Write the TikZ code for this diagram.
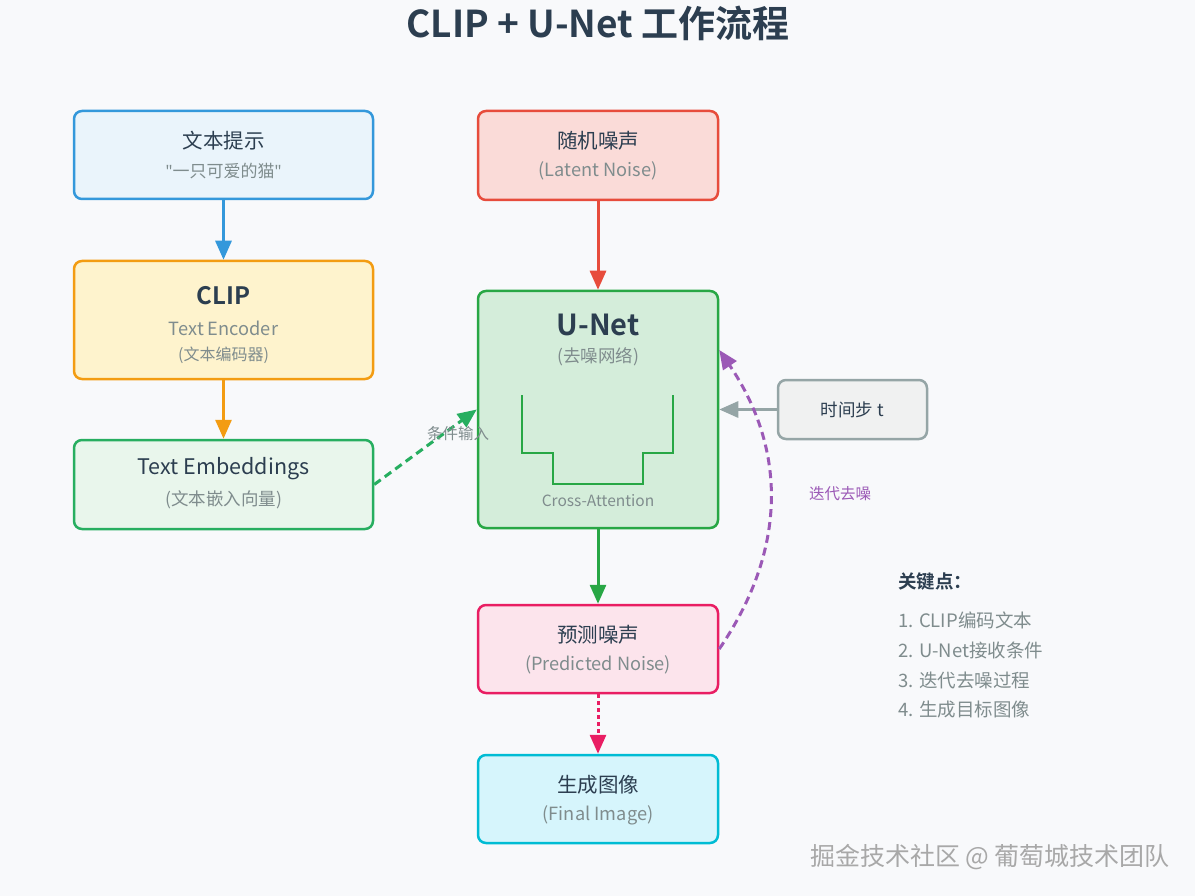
\documentclass[tikz,border=0pt]{standalone}
\usepackage{fontspec}
\setmainfont{Noto Sans CJK SC}[BoldFont={Noto Sans CJK SC Bold}]
\newfontfamily\latinfont{Noto Sans}
\usetikzlibrary{arrows.meta,calc}
\definecolor{bg}{HTML}{F8F9FB}
\definecolor{dark}{HTML}{2C3E50}
\definecolor{sub}{HTML}{7F8C8D}
\definecolor{cblue}{HTML}{3498DB}\definecolor{fblue}{HTML}{EAF4FB}
\definecolor{corange}{HTML}{F39C12}\definecolor{forange}{HTML}{FEF3CD}
\definecolor{cgreen}{HTML}{27AE60}\definecolor{fgreenl}{HTML}{E9F6EC}
\definecolor{ugreen}{HTML}{28A745}\definecolor{fgreen}{HTML}{D4EDDA}
\definecolor{cred}{HTML}{E74C3C}\definecolor{fred}{HTML}{FADBD8}
\definecolor{cgray}{HTML}{95A5A6}\definecolor{fgray}{HTML}{F0F1F1}
\definecolor{cpink}{HTML}{E91E63}\definecolor{fpink}{HTML}{FCE4EC}
\definecolor{ccyan}{HTML}{00BCD4}\definecolor{fcyan}{HTML}{D6F5FC}
\definecolor{cpurple}{HTML}{9B59B6}
\definecolor{wmgray}{HTML}{A8A8A8}
\newcommand{\fsz}[1]{\fontsize{#1}{#1}\selectfont}
\newcommand{\sq}{{\latinfont\char"22}}
\begin{document}
\begin{tikzpicture}[x=1pt,y=-1pt,
  box/.style={draw, rounded corners=8pt, line width=2.5pt, inner sep=0pt},
  ttl/.style={text=dark, font=\fsz{20.5}, anchor=center, inner sep=0pt},
  subt/.style={text=sub, font=\fsz{18.2}, anchor=center, inner sep=0pt},
  arr/.style={line width=3pt, -{Triangle[length=19pt,width=16pt]}},
  lbl/.style={font=\fsz{15.5}, anchor=center, inner sep=0pt},
  itm/.style={text=sub, font=\fsz{18.5}, anchor=west, inner sep=0pt}]
\fill[bg] (0,0) rectangle (1195,896);
\useasboundingbox (0,0) rectangle (1195,896);

% title
\node[text=dark, font=\bfseries\fsz{37}, inner sep=0pt] (title) at (598,23) {CLIP + U-Net 工作流程};

% boxes
\node[box, draw=cblue, fill=fblue, minimum width=299pt, minimum height=88pt] (prompt) at (223.5,155) {};
\node[box, draw=corange, fill=forange, minimum width=299pt, minimum height=118pt] (clip) at (223.5,320) {};
\node[box, draw=cgreen, fill=fgreenl, minimum width=299pt, minimum height=89pt] (emb) at (223.5,484.5) {};
\node[box, draw=cred, fill=fred, minimum width=240pt, minimum height=89pt] (noise) at (598,155.5) {};
\node[box, draw=ugreen, fill=fgreen, minimum width=240pt, minimum height=237pt] (unet) at (598,409.5) {};
\node[box, draw=cgray, fill=fgray, minimum width=149pt, minimum height=59pt] (time) at (852.5,409.5) {};
\node[box, draw=cpink, fill=fpink, minimum width=240pt, minimum height=88pt] (pred) at (598,649) {};
\node[box, draw=ccyan, fill=fcyan, minimum width=240pt, minimum height=88pt] (final) at (598,799) {};

% texts
\node[ttl] (promptT) at (223.5,141) {文本提示};
\node[subt, font=\fsz{17}] (promptS) at (223.5,171) {\sq 一只可爱的猫\sq};
\node[text=dark, font=\bfseries\fsz{24}, inner sep=0pt] (clipT) at (223.5,296) {CLIP};
\node[subt] (clipS) at (223.5,328) {Text Encoder};
\node[subt, font=\fsz{16}] (clipS2) at (223.5,355) {(文本编码器)};
\node[ttl, font=\fsz{21.5}] (embT) at (223.5,469) {Text Embeddings};
\node[subt, font=\fsz{17.5}] (embS) at (223.5,500) {(文本嵌入向量)};
\node[ttl] (noiseT) at (598,141) {随机噪声};
\node[subt] (noiseS) at (598,171) {(Latent Noise)};
\node[text=dark, font=\bfseries\fsz{29}, inner sep=0pt] (unetT) at (598,325) {U-Net};
\node[subt, font=\fsz{17.5}] (unetS) at (598,357) {(去噪网络)};
\node[subt, font=\fsz{15.5}] (unetC) at (598,501) {Cross-Attention};
\node[ttl, font=\fsz{17.5}] (timeT) at (852.5,410) {时间步 t};
\node[ttl] (predT) at (598,635) {预测噪声};
\node[subt] (predS) at (598,665) {(Predicted Noise)};
\node[ttl] (finalT) at (598,785) {生成图像};
\node[subt] (finalS) at (598,815) {(Final Image)};

% U shape
\draw[ugreen, line width=2pt] (522,395) -- (522,453) -- (553,453) -- (553,484) -- (643,484) -- (643,453) -- (673,453) -- (673,395);

% connectors
\draw[arr, cblue] (prompt.south) -- (clip.north);
\draw[arr, corange] (clip.south) -- (emb.north);
\draw[arr, cred] (noise.south) -- (unet.north);
\draw[arr, ugreen] (unet.south) -- (pred.north);
\draw[arr, cpink, dash pattern=on 4pt off 3pt] (pred.south) -- (final.north);
\draw[arr, cgray] (time.west) -- (unet.east);
\draw[arr, cgreen, dash pattern=on 8pt off 5pt] (emb.east) -- (unet.west);
\draw[arr, cpurple, dash pattern=on 8pt off 5pt] (pred.east) .. controls (787,550) and (787,450) .. ([yshift=59.5pt]unet.east);

% labels
\node[lbl, text=sub] (condL) at (458,434) {条件输入};
\node[lbl, text=cpurple] (iterL) at (840,494) {迭代去噪};

% key points
\node[text=dark, font=\bfseries\fsz{18.5}, anchor=west, inner sep=0pt] (keyT) at (898,582) {关键点：};
\node[itm] (k1) at (898,620) {1. CLIP编码文本};
\node[itm] (k2) at (898,650) {2. U-Net接收条件};
\node[itm] (k3) at (898,680) {3. 迭代去噪过程};
\node[itm] (k4) at (898,710) {4. 生成目标图像};

% watermark
\node[text=wmgray, font=\fsz{25}, anchor=center, inner sep=0pt] (wm) at (990,857) {掘金技术社区 @ 葡萄城技术团队};
\end{tikzpicture}
\end{document}
